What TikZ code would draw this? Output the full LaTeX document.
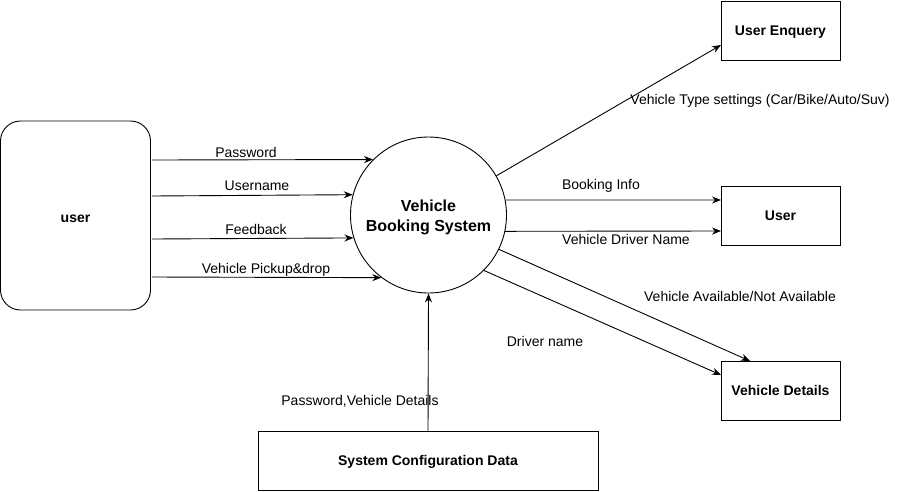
\documentclass[tikz,border=0pt]{standalone}
\usepackage{fontspec}
\setmainfont{Liberation Sans}
\usetikzlibrary{arrows.meta}
\begin{document}
\begin{tikzpicture}[x=1pt,y=-1pt,
  line width=0.9pt,
  flow/.style={draw, -{Stealth[length=9pt,width=7pt]}},
  lbl/.style={font=\fontsize{14}{16}\selectfont, inner sep=0pt},
  ent/.style={draw, font=\fontsize{14}{16}\selectfont\bfseries, inner sep=0pt, align=center, text height=10pt, text depth=0pt},
  proc/.style={draw, circle, minimum size=156pt, inner sep=0pt, align=center,
    font=\fontsize{16}{20}\selectfont\bfseries}]
\useasboundingbox (0,0) rectangle (899,491);
% entities
\node[ent, rounded corners=20pt, minimum width=150pt, minimum height=189pt, text height=13pt] (user) at (75.5,215.5) {user};
\node[proc] (vbs) at (428.5,215) {};
\node[font=\fontsize{16}{20}\selectfont\bfseries, align=center, inner sep=0pt] (vbst) at (428.5,217.5) {Vehicle\\Booking System};
\node[ent, minimum width=119pt, minimum height=59pt] (ue) at (780.5,30.5) {User Enquery};
\node[ent, minimum width=119pt, minimum height=59pt] (usr) at (780.5,215.5) {User};
\node[ent, minimum width=119pt, minimum height=59pt] (vd) at (780.5,390.5) {Vehicle Details};
\node[ent, minimum width=340pt, minimum height=59pt] (scd) at (428,460.5) {System Configuration Data};
% left side connectors
\coordinate (p1) at (152,160);
\coordinate (p2) at (152,196);
\coordinate (p3) at (152,239);
\coordinate (p4) at (152,277);
\draw[flow] (p1) -- (vbs.135);
\draw[flow] (p2) -- (vbs.165);
\draw[flow] (p3) -- (vbs.197);
\draw[flow] (p4) -- (vbs.233);
\node[lbl] (l1) at (246,152) {Password};
\node[lbl] (l2) at (257,186) {Username};
\node[lbl] (l3) at (256,229) {Feedback};
\node[lbl] (l4) at (266,270) {Vehicle Pickup\&drop};
% right side connectors
\coordinate (e1) at (721,45);
\coordinate (e2) at (721,200);
\coordinate (e3) at (721,231);
\coordinate (e4) at (750,361);
\coordinate (e5) at (721,375);
\draw[flow] (vbs.30) -- (e1);
\draw[flow] (vbs.11) -- (e2);
\draw[flow] (vbs.-12) -- (e3);
\draw[flow] (vbs.-26) -- (e4);
\draw[flow] (vbs.-45) -- (e5);
\node[lbl] (l5) at (760,101) {Vehicle Type settings (Car/Bike/Auto/Suv)};
\node[lbl] (l6) at (601,186) {Booking Info};
\node[lbl] (l7) at (626,239) {Vehicle Driver Name};
\node[lbl] (l8) at (740,296) {Vehicle Available/Not Available};
\node[lbl] (l9) at (545,341) {Driver name};
% bottom connector
\draw[flow] (scd.north) -- (vbs.south);
\node[lbl] (l10) at (360,401) {Password,Vehicle Details};
\end{tikzpicture}
\end{document}
